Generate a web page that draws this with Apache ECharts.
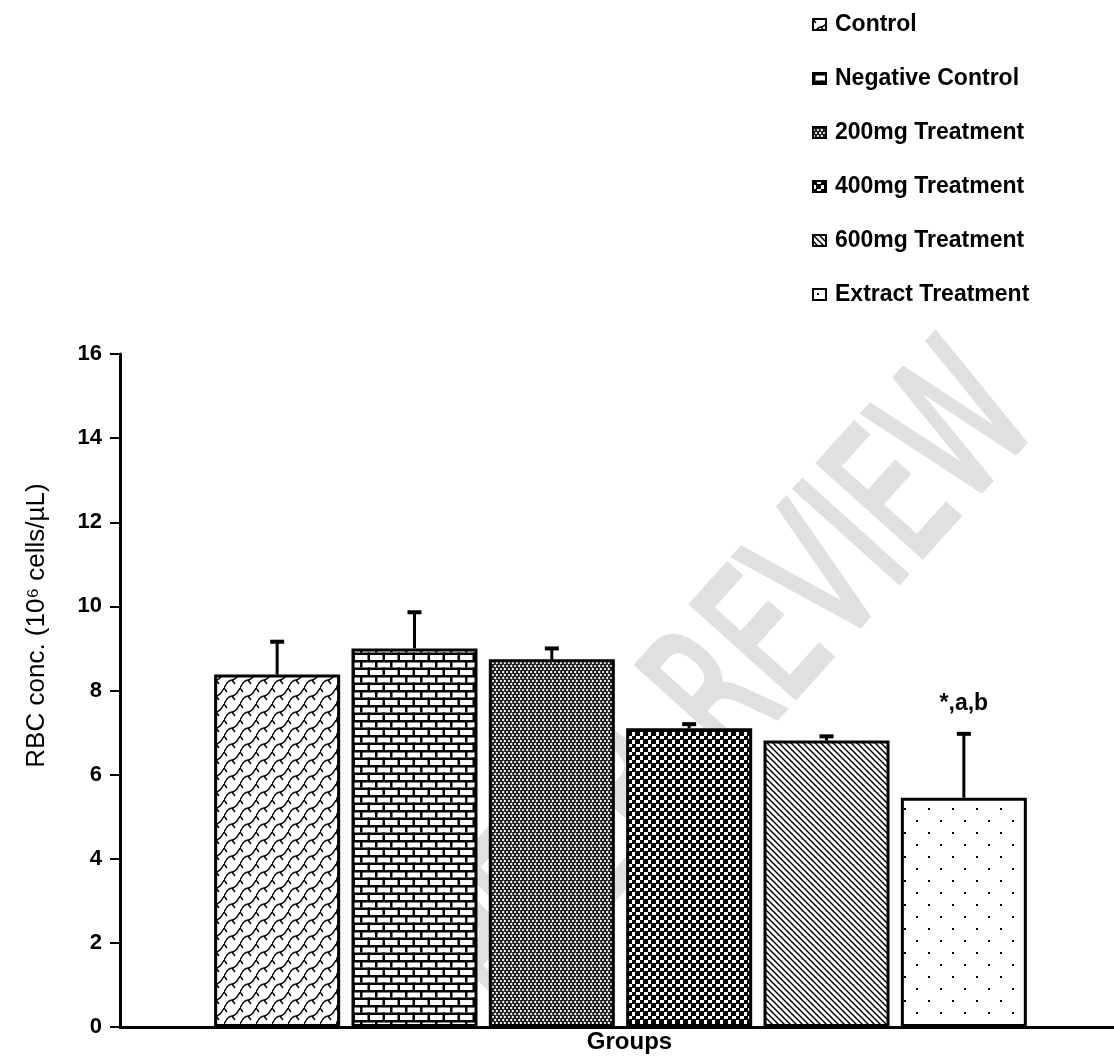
<!DOCTYPE html>
<html>
<head>
<meta charset="utf-8">
<script src="https://cdn.jsdelivr.net/npm/echarts@6/dist/echarts.min.js"></script>
<style>
  html, body { margin: 0; background: #fff; }
  #main { width: 1114px; height: 1059px; }
</style>
</head>
<body>
<div id="main"></div>
<script>
var groups = ['Control', 'Negative Control', '200mg Treatment', '400mg Treatment', '600mg Treatment', 'Extract Treatment'];
var means = [8.38, 9.0, 8.74, 7.1, 6.81, 5.45];
var errors = [0.78, 0.86, 0.26, 0.1, 0.1, 1.52];
var marks = ['', '', '', '', '', '*,a,b'];

var BAR_W = 126;
var GAP = 0.09;
var FONT = '"Liberation Sans", Arial, sans-serif';

function tile(w, h, draw) {
  var c = document.createElement('canvas');
  c.width = w;
  c.height = h;
  var ctx = c.getContext('2d');
  ctx.fillStyle = '#fff';
  ctx.fillRect(0, 0, w, h);
  ctx.strokeStyle = '#000';
  ctx.fillStyle = '#000';
  draw(ctx, w, h);
  return { image: c, repeat: 'repeat' };
}

var patterns = [
  // weave
  tile(16, 16, function (ctx) {
    ctx.lineWidth = 1.4;
    ctx.beginPath();
    ctx.moveTo(0, 16); ctx.quadraticCurveTo(4, 8, 8, 8); ctx.quadraticCurveTo(12, 8, 16, 0);
    ctx.moveTo(8, 8); ctx.lineTo(11, 12);
    ctx.moveTo(0, 0); ctx.lineTo(3, 4);
    ctx.moveTo(16, 0); ctx.lineTo(19, 4);
    ctx.stroke();
  }),
  // brick
  tile(15, 15, function (ctx) {
    ctx.fillRect(0, 0, 15, 2.5);
    ctx.fillRect(0, 7.5, 15, 2.5);
    ctx.fillRect(0, 0, 2.5, 7.5);
    ctx.fillRect(7.5, 7.5, 2.5, 7.5);
  }),
  // dense waves
  tile(8, 6, function (ctx) {
    ctx.lineWidth = 1.4;
    ctx.beginPath();
    ctx.moveTo(0, 1.5); ctx.bezierCurveTo(2, -1, 2, 4, 4, 1.5); ctx.bezierCurveTo(6, -1, 6, 4, 8, 1.5);
    ctx.moveTo(0, 4.5); ctx.bezierCurveTo(2, 7, 2, 2, 4, 4.5); ctx.bezierCurveTo(6, 7, 6, 2, 8, 4.5);
    ctx.stroke();
  }),
  // checker
  tile(8, 8, function (ctx) {
    ctx.fillRect(0, 0, 4, 4);
    ctx.fillRect(4, 4, 4, 4);
    ctx.fillRect(3, 0, 1, 8);
    ctx.fillRect(0, 3, 8, 1);
  }),
  // diagonal lines
  tile(6, 6, function (ctx) {
    ctx.lineWidth = 1.5;
    ctx.beginPath();
    ctx.moveTo(-1, -1); ctx.lineTo(7, 7);
    ctx.moveTo(-1, 5); ctx.lineTo(1, 7);
    ctx.moveTo(5, -1); ctx.lineTo(7, 1);
    ctx.stroke();
  }),
  // sparse dots
  tile(24, 24, function (ctx) {
    ctx.fillRect(4, 4, 2, 2);
    ctx.fillRect(16, 16, 2, 2);
  })
];

var barSeries = groups.map(function (name, i) {
  return {
    name: name,
    type: 'bar',
    data: [means[i]],
    barWidth: BAR_W,
    barGap: (GAP * 100) + '%',
    itemStyle: { color: patterns[i], borderColor: '#000', borderWidth: 3 },
    z: 2
  };
});

var errData = means.map(function (m, i) { return [0, m, m + errors[i]]; });

var errSeries = {
  type: 'custom',
  data: errData,
  encode: { x: 0, y: [1, 2] },
  z: 3,
  silent: true,
  renderItem: function (params, api) {
    var i = params.dataIndex;
    var base = api.coord([0, api.value(1)]);
    var top = api.coord([0, api.value(2)]);
    var cx = base[0] + (i - 2.5) * BAR_W * (1 + GAP);
    var children = [
      { type: 'line', shape: { x1: cx, y1: base[1], x2: cx, y2: top[1] }, style: { stroke: '#000', lineWidth: 3 } },
      { type: 'line', shape: { x1: cx - 7, y1: top[1], x2: cx + 7, y2: top[1] }, style: { stroke: '#000', lineWidth: 4 } }
    ];
    if (marks[i]) {
      children.push({
        type: 'text',
        style: { text: marks[i], x: cx, y: top[1] - 30, align: 'center', verticalAlign: 'middle', font: 'bold 23px ' + FONT, fill: '#000' }
      });
    }
    return { type: 'group', children: children };
  }
};

var chart = echarts.init(document.getElementById('main'));
chart.setOption({
  animation: false,
  backgroundColor: '#fff',
  grid: { left: 120, right: -7, top: 354, bottom: 32, outerBoundsMode: 'none' },
  legend: {
    orient: 'vertical',
    left: 807,
    top: 8,
    itemWidth: 13,
    itemHeight: 11,
    itemGap: 31,
    icon: 'rect',
    itemStyle: { borderColor: '#000', borderWidth: 2 },
    textStyle: { fontFamily: FONT, fontWeight: 'bold', fontSize: 23, lineHeight: 23, color: '#000', padding: [0, 0, 0, 4] },
    data: groups
  },
  graphic: [{
    type: 'text',
    z: 0,
    x: 1005,
    y: 390,
    rotation: 48 * Math.PI / 180,
    scaleX: 0.62,
    silent: true,
    style: {
      text: 'PEER REVIEW',
      font: '190px "DejaVu Sans", sans-serif',
      fill: '#e0e0e0',
      stroke: '#e0e0e0',
      lineWidth: 6,
      align: 'right',
      verticalAlign: 'middle'
    }
  }],
  xAxis: {
    type: 'category',
    data: [''],
    name: 'Groups',
    nameLocation: 'middle',
    nameGap: 3,
    nameTextStyle: { fontFamily: FONT, fontWeight: 'bold', fontSize: 24, color: '#000', padding: [0, 0, 0, 18] },
    axisLine: { lineStyle: { color: '#000', width: 3 } },
    axisTick: { length: 10, lineStyle: { color: '#000', width: 2 } },
    axisLabel: { show: false }
  },
  yAxis: {
    type: 'value',
    min: 0,
    max: 16,
    interval: 2,
    name: 'RBC conc. (10\u2076 cells/\u00b5L)',
    nameLocation: 'middle',
    nameGap: 70,
    nameTextStyle: { fontFamily: FONT, fontSize: 26, color: '#000', padding: [0, 0, 0, 130] },
    axisLine: { show: true, lineStyle: { color: '#000', width: 3 } },
    axisTick: { show: true, length: 10, lineStyle: { color: '#000', width: 2 } },
    axisLabel: { fontFamily: FONT, fontWeight: 'bold', fontSize: 22, color: '#000', margin: 18 },
    splitLine: { show: false }
  },
  series: barSeries.concat([errSeries])
});
</script>
</body>
</html>
